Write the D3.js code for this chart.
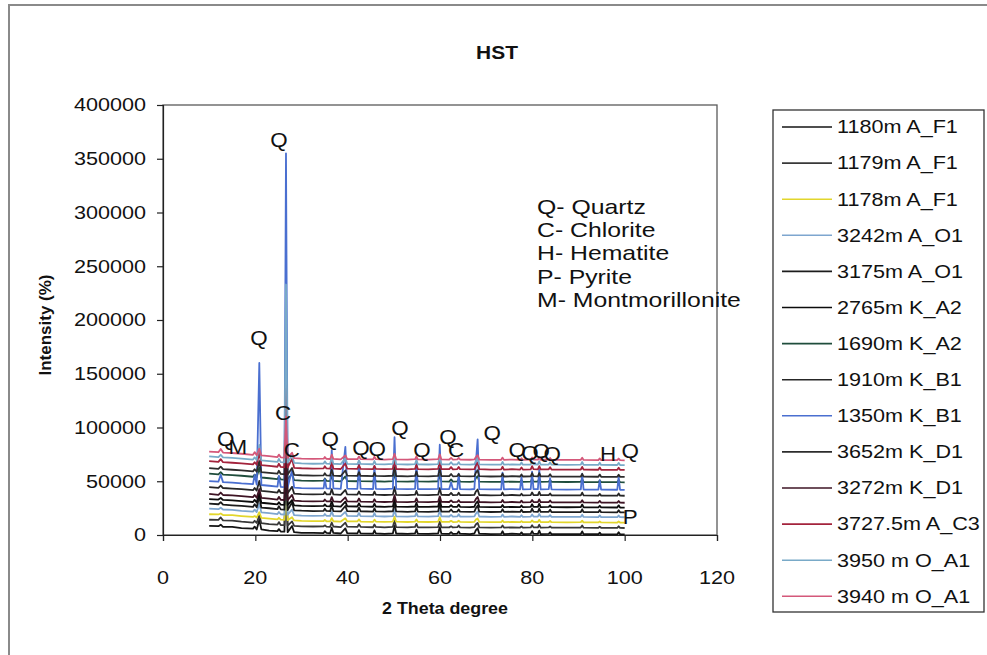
<!DOCTYPE html>
<html><head><meta charset="utf-8">
<script src="https://cdn.jsdelivr.net/npm/d3@7"></script>
<style>
body{margin:0;background:#fff}
svg{display:block}
text{font-family:"Liberation Sans",Arial,Helvetica,sans-serif;fill:#111}
</style>
</head><body>
<svg id="chart" width="987" height="655"></svg>
<script>
// ---------- data ----------
const chartTitle = "HST";
const xTitle = "2 Theta degree";
const yTitle = "Intensity (%)";
const xTickValues = [0, 20, 40, 60, 80, 100, 120];
const yTickValues = [0, 50000, 100000, 150000, 200000, 250000, 300000, 350000, 400000];

// 2θ sampling positions shared by all patterns
const twoTheta = [
  10, 12, 12.5, 13, 15, 17, 19.5, 19.85, 20.3,
  20.86, 21.3, 23, 24.8, 25.1, 25.5, 26.3, 26.64, 27.0, 27.95, 28.4,
  30, 32.5, 34.8, 35.05, 35.4, 36.2, 36.55, 36.9, 38.5, 39.5, 39.9,
  42.1, 42.45, 42.8, 45.5, 45.8, 46.1, 48, 49.8, 50.15, 50.5,
  53, 54.6, 54.9, 55.2, 57.5, 59.6, 59.95, 60.3, 62, 62.4, 62.8,
  63.75, 64.05, 64.35, 66.5, 67.45, 67.75, 68.15, 68.5, 71, 73.25, 73.55, 73.85,
  75.6, 77.35, 77.65, 77.95, 79.65, 79.95, 80.25, 81.2, 81.5, 81.8, 83.55, 83.85, 84.15,
  87.5, 90.5, 90.8, 91.1, 94.3, 94.6, 94.9, 98.4, 98.7, 99.0, 100
];

// intensities in thousands of counts, same order as twoTheta
const i1180A_F1 = [8.5,8.2,9.6,7.5,7.6,6.4,5.9,7.8,5.1, 14.2,5.2,4.1,3.6,5.5,3.2,3.1,58,2.6,8.4,2.6, 2.0,2.0,1.8,3.5,2.0,1.6,6.8,1.9,1.4,6.1,1.8, 1.6,4.6,1.5,1.2,4.4,1.6,1.1,1.6,8.5,1.4, 1.0,1.6,5.0,1.2,1.1,1.5,7.4,1.3,1.0,2.7,1.1, 1.3,3.3,1.2,0.9,1.4,4.3,6.3,1.2,0.8,1.0,3.5,0.9, 1.2,0.9,2.4,0.8,1.1,3.6,1.2,1.0,4.0,0.9,1.1,2.5,0.8, 0.8,0.9,3.4,0.8,0.7,2.2,0.6,0.6,2.6,0.6,0.5];
const i1179A_F1 = [14.2,14.0,16.3,13.6,13.4,12.4,11.6,13.2,11.2, 18.3,11.0,10.2,9.6,12.0,9.3,9.1,54,8.7,12.6,8.5, 8.0,7.9,8.1,9.0,7.8,7.6,11.6,7.9,7.4,11.5,7.7, 7.5,10.0,7.6,7.2,9.8,7.5,7.1,7.6,13.5,7.3, 7.0,7.5,10.4,7.2,7.0,7.4,12.4,7.2,7.1,8.1,7.0, 7.3,8.8,7.1,6.9,7.3,9.8,11.3,7.1,6.8,7.0,8.9,6.9, 7.1,6.9,7.9,6.8,7.0,9.1,7.1,7.0,9.5,6.9,7.0,8.0,6.8, 6.8,6.9,8.9,6.8,6.7,7.7,6.7,6.6,8.1,6.6,6.5];
const i1178A_F1 = [19.3,19.1,20.0,18.6,18.4,17.6,16.8,17.6,16.3, 21.2,16.0,15.3,14.6,16.0,14.3,14.0,44,13.8,16.5,13.6, 13.1,12.9,13.0,14.0,12.8,12.7,15.7,12.8,12.5,15.5,12.7, 12.6,14.5,12.5,12.3,14.3,12.5,12.2,12.5,17.0,12.4, 12.1,12.5,14.5,12.3,12.1,12.5,16.5,12.3,12.2,13.2,12.0, 12.3,13.3,12.2,12.0,12.3,14.3,15.3,12.2,11.9,12.0,13.5,11.9, 12.2,11.9,12.9,11.9,12.1,13.6,12.2,12.1,14.1,12.0,12.1,13.0,11.9, 11.8,11.9,13.4,11.8,11.7,12.7,11.7,11.6,12.6,11.6,11.5];
const i3242A_O1 = [24.6,24.0,25.4,23.7,23.4,22.5,21.8,23.6,21.3, 29.3,21.0,20.3,19.5,21.4,19.3,19.0,69,18.8,23.6,18.5, 18.1,17.8,18.0,19.5,17.9,17.7,22.2,17.8,17.5,21.5,17.7, 17.5,20.5,17.6,17.3,20.3,17.5,17.2,17.5,24.0,17.4, 17.1,17.5,20.5,17.3,17.1,17.5,23.0,17.3,17.2,18.7,17.1, 17.3,19.3,17.2,17.0,17.3,19.8,21.8,17.2,16.9,17.0,19.0,16.9, 17.2,16.9,18.4,16.9,17.1,19.1,17.2,17.1,19.6,17.0,17.1,18.5,16.9, 16.8,16.9,18.9,16.8,16.7,18.2,16.7,16.6,18.1,16.6,16.5];
const i3175A_O1 = [29.2,28.6,30.5,28.2,27.6,27.1,26.1,28.7,25.8, 35.8,25.4,24.9,24.0,26.9,23.8,23.6,84,23.2,30.2,23.0, 22.6,22.3,22.5,24.4,22.4,22.2,27.3,22.3,21.9,27.0,22.2, 22.0,25.5,22.1,21.8,24.8,22.0,21.7,22.1,30.0,21.9, 21.6,22.0,26.0,21.8,21.6,22.0,28.5,21.8,21.7,23.7,21.6, 21.8,23.8,21.7,21.5,21.8,24.8,27.3,21.7,21.4,21.5,24.0,21.5, 21.7,21.5,23.5,21.4,21.6,24.6,21.7,21.6,24.6,21.5,21.6,23.6,21.4, 21.3,21.4,23.9,21.3,21.2,23.2,21.2,21.1,23.1,21.1,21.0];
const i2765K_A2 = [33.4,33.0,34.5,32.6,32.3,31.6,30.7,32.7,30.2, 39.3,30.0,29.3,28.5,30.5,28.3,28.0,78,27.8,32.5,27.5, 27.1,26.8,27.0,28.5,26.9,26.7,31.3,26.8,26.4,31.0,26.7, 26.5,29.5,26.6,26.3,29.3,26.5,26.2,26.6,33.5,26.4, 26.1,26.5,30.0,26.3,26.1,26.5,32.5,26.3,26.2,27.7,26.1, 26.3,28.3,26.2,26.0,26.3,29.3,31.3,26.2,25.9,26.0,28.0,25.9, 26.2,25.9,27.4,25.9,26.1,28.6,26.2,26.1,29.1,26.0,26.1,27.6,25.9, 25.8,25.9,28.4,25.8,25.7,27.2,25.7,25.6,27.6,25.6,25.5];
const i1690K_A2 = [57.1,56.4,58.5,56.2,55.7,55.1,54.2,56.2,53.8, 62.8,53.5,52.8,52.0,54.5,51.8,51.5,111,51.3,57.3,51.0, 50.6,50.3,50.5,52.5,50.4,50.2,55.2,50.3,49.9,54.5,50.2, 50.0,53.0,50.1,49.8,52.8,50.0,49.7,50.1,57.5,49.9, 49.6,50.0,53.5,49.8,49.6,50.0,56.0,49.8,49.7,51.7,49.6, 49.8,51.8,49.7,49.5,49.8,52.8,54.8,49.7,49.4,49.5,52.0,49.4, 49.7,49.4,50.9,49.4,49.6,52.1,49.7,49.6,52.6,49.5,49.6,51.1,49.4, 49.3,49.4,51.9,49.3,49.2,50.7,49.2,49.1,51.1,49.1,49.0];
const i1910K_B1 = [44.6,43.9,46.0,43.7,43.2,42.6,41.7,43.7,41.3, 50.3,41.0,40.3,39.5,42.0,39.3,39.0,94,38.8,44.8,38.5, 38.1,37.8,38.0,40.0,37.9,37.7,42.7,37.8,37.4,42.0,37.7, 37.5,40.5,37.6,37.3,40.3,37.5,37.2,37.6,44.5,37.4, 37.1,37.5,41.0,37.3,37.1,37.5,43.5,37.3,37.2,39.2,37.1, 37.3,39.3,37.2,37.0,37.3,40.3,42.3,37.2,36.9,37.0,39.5,36.9, 37.2,36.9,38.4,36.9,37.1,39.6,37.2,37.1,40.1,37.0,37.1,38.6,36.9, 36.8,36.9,39.4,36.8,36.7,38.2,36.7,36.6,38.6,36.6,36.5];
const i1350K_B1 = [50.2,49.6,56,49.2,48.8,48.0,47.3,56,46.8, 160,46.5,45.8,45.0,55,44.8,44.6,355,44.3,60,44.0, 43.6,43.3,43.5,52,43.4,43.2,79,43.3,42.9,82,43.2, 43.0,66,43.1,42.8,64,43.0,42.7,43.1,91,42.9, 42.6,43.0,68,42.8,42.6,43.0,84,42.8,42.7,49,42.6, 42.8,57,42.7,42.5,42.8,66,89,42.7,42.4,42.5,58,42.5, 42.7,42.5,54,42.4,42.6,59,42.7,42.6,61,42.5,42.6,53,42.4, 42.3,42.4,57,42.3,42.2,51,42.2,42.1,54,42.1,42.0];
const i3652K_D1 = [62.2,61.5,63.6,61.2,60.7,60.1,59.2,61.2,58.8, 68.8,58.5,57.8,57.0,59.8,56.8,56.5,126,56.3,62.3,56.0, 55.6,55.3,55.5,57.5,55.4,55.2,60.7,55.3,54.9,60.0,55.2, 55.0,58.5,55.1,54.8,57.8,55.0,54.7,55.1,63.0,54.9, 54.6,55.0,59.0,54.8,54.6,55.0,61.5,54.8,54.7,56.7,54.6, 54.8,56.8,54.7,54.5,54.8,57.8,60.3,54.7,54.4,54.5,57.0,54.4, 54.7,54.4,56.4,54.4,54.6,57.6,54.7,54.6,57.6,54.5,54.6,56.6,54.4, 54.3,54.4,56.9,54.3,54.2,56.2,54.2,54.1,56.1,54.1,54.0];
const i3272K_D1 = [38.3,37.4,39.5,37.2,36.8,36.1,35.2,37.2,34.7, 42.8,34.5,33.8,33.0,35.5,32.8,32.5,80,32.3,37.3,32.0, 31.6,31.3,31.5,33.0,31.4,31.2,35.2,31.3,30.9,35.0,31.2, 31.0,34.0,31.1,30.8,33.3,31.0,30.7,31.1,37.0,30.9, 30.6,31.0,34.0,30.8,30.6,31.0,36.0,30.8,30.7,32.2,30.6, 30.8,32.3,30.7,30.5,30.8,33.3,35.3,30.7,30.4,30.5,32.5,30.4, 30.7,30.4,31.9,30.4,30.6,32.6,30.7,30.6,33.1,30.5,30.6,32.1,30.4, 30.3,30.4,32.4,30.3,30.2,31.7,30.2,30.1,31.6,30.1,30.0];
const i3727A_C3 = [68.7,68.0,70.6,67.7,67.2,66.6,65.7,67.7,65.3, 77.3,65.0,64.3,63.5,66.3,63.3,63.0,150,62.8,70.8,62.5, 62.1,61.8,62.0,64.0,61.9,61.7,67.7,61.8,61.4,66.5,61.7, 61.5,65.0,61.6,61.3,64.3,61.5,61.2,61.6,70.0,61.4, 61.1,61.5,65.5,61.3,61.1,61.5,68.5,61.3,61.2,63.2,61.1, 61.3,63.3,61.2,61.0,61.3,64.3,67.3,61.2,60.9,61.0,63.5,60.9, 61.2,60.9,62.9,60.9,61.1,64.1,61.2,61.1,64.1,61.0,61.1,63.1,60.9, 60.8,60.9,63.4,60.8,60.7,62.7,60.7,60.6,62.6,60.6,60.5];
const i3950O_A1 = [73.2,72.5,74.6,72.2,71.7,71.1,70.2,72.2,69.8, 83.8,69.5,68.8,68.0,70.8,67.8,67.5,233,67.3,74.3,67.0, 66.6,66.3,66.5,68.5,66.4,66.2,72.2,66.3,65.9,71.5,66.2, 66.0,69.5,66.1,65.8,68.8,66.0,65.7,66.1,75.0,65.9, 65.6,66.0,70.0,65.8,65.6,66.0,73.0,65.8,65.7,67.7,65.6, 65.8,67.8,65.7,65.5,65.8,68.8,71.8,65.7,65.4,65.5,68.0,65.4, 65.7,65.4,67.4,65.4,65.6,68.6,65.7,65.6,68.6,65.5,65.6,67.6,65.4, 65.3,65.4,67.9,65.3,65.2,67.2,65.2,65.1,67.1,65.1,65.0];
const i3940O_A1 = [77.6,77.0,80.0,76.7,76.3,75.6,74.6,77.1,74.3, 80.2,74.0,73.3,72.5,74.8,72.3,72.0,110,71.8,76.5,71.5, 71.1,70.8,71.0,72.5,70.9,70.7,74.7,70.8,70.4,74.0,70.7, 70.5,73.0,70.6,70.3,72.8,70.5,70.2,70.6,75.5,70.4, 70.1,70.5,73.0,70.3,70.1,70.5,75.0,70.3,70.2,71.7,70.1, 70.3,71.8,70.2,70.0,70.3,72.3,74.3,70.2,69.9,70.0,72.0,69.9, 70.2,69.9,71.4,69.9,70.1,72.1,70.2,70.1,72.1,70.0,70.1,71.6,69.9, 69.8,69.9,71.9,69.8,69.7,71.2,69.7,69.6,71.1,69.6,69.5];

const seriesNames = ["1180m A_F1","1179m A_F1","1178m A_F1","3242m A_O1","3175m A_O1","2765m K_A2","1690m K_A2","1910m K_B1","1350m K_B1","3652m K_D1","3272m K_D1","3727.5m A_C3","3950 m O_A1","3940 m O_A1"];
const seriesValues = [i1180A_F1,i1179A_F1,i1178A_F1,i3242A_O1,i3175A_O1,i2765K_A2,i1690K_A2,i1910K_B1,i1350K_B1,i3652K_D1,i3272K_D1,i3727A_C3,i3950O_A1,i3940O_A1];
const seriesColors = ["#141414","#383838","#e2d62c","#7ea6cf","#1c1c1c","#0c0c0c","#1f4d3c","#262626","#4a6fd0","#2c2c2c","#3e1424","#a3233c","#79aac8","#d4587a"];

// mineral key and peak labels (label, 2θ, intensity)
const mineralKey = ["Q- Quartz","C- Chlorite","H- Hematite","P- Pyrite","M- Montmorillonite"];
const peakText = ["Q","M","Q","Q","C","C","Q","Q","Q","Q","Q","Q","C","Q","Q","Q","Q","Q","H","Q","P"];
const peakTheta = [13.6,16.2,25.1,20.8,26.0,27.9,36.2,42.9,46.4,51.3,56.1,61.7,63.5,71.3,76.7,79.5,81.9,84.3,96.4,101.2,101.2];
const peakIntensity = [89200,81800,367200,183100,113400,79000,89200,80900,79900,99500,79000,91100,79000,94800,79000,76200,78100,75300,75300,78100,16700];

// ---------- drawing ----------
const svg = d3.select("#chart");
const SX = 1.2; // horizontal stretch of the source image text

function label(g, str, x, y, o = {}) {
  return g.append("text")
    .attr("transform", `translate(${x},${y}) scale(${o.sx ?? SX},1)`)
    .attr("text-anchor", o.anchor || "middle")
    .attr("dominant-baseline", "central")
    .attr("font-size", o.size || 18)
    .attr("font-weight", o.bold ? "bold" : "normal")
    .text(str);
}

// outer chart border
svg.append("rect").attr("x", 9).attr("y", 5).attr("width", 1000).attr("height", 700)
  .attr("fill", "#fff").attr("stroke", "#8a8a8a").attr("stroke-width", 2);

const x = d3.scaleLinear().domain([0, 120]).range([163, 717]);
const y = d3.scaleLinear().domain([0, 400000]).range([535, 105]);

// plot area border
svg.append("rect").attr("x", x(0)).attr("y", y(400000))
  .attr("width", x(120) - x(0)).attr("height", y(0) - y(400000))
  .attr("fill", "none").attr("stroke", "#5a5a5a").attr("stroke-width", 1.3);

// axes
const gx = svg.append("g").attr("transform", `translate(0,${y(0)})`)
  .call(d3.axisBottom(x).tickValues(xTickValues).tickSize(6).tickFormat(""));
const gy = svg.append("g").attr("transform", `translate(${x(0)},0)`)
  .call(d3.axisLeft(y).tickValues(yTickValues).tickSize(6).tickFormat(""));
[gx, gy].forEach(g => { g.selectAll("path,line").attr("stroke", "#222").attr("stroke-width", 1.2); });

xTickValues.forEach(v => label(svg, String(v), x(v), 578));
yTickValues.forEach(v => label(svg, String(v), 146, y(v), { anchor: "end" }));

// series
const line = d3.line().x((d, i) => x(twoTheta[i])).y(d => y(d * 1000));
seriesValues.forEach((vals, k) => {
  svg.append("path").datum(vals)
    .attr("d", line).attr("fill", "none")
    .attr("stroke", seriesColors[k]).attr("stroke-width", 1.8)
    .attr("stroke-linejoin", "round");
});

// peak labels
peakText.forEach((t, i) => label(svg, t, x(peakTheta[i]), y(peakIntensity[i]), { size: 20, sx: 1.12 }));

// mineral key
mineralKey.forEach((t, i) => label(svg, t, 537, 207 + i * 23.3, { anchor: "start", size: 20, sx: 1.24 }));

// titles
label(svg, chartTitle, 497, 52, { bold: true, size: 19, sx: 1.1 });
label(svg, xTitle, 445, 608, { bold: true, size: 17, sx: 1.05 });
svg.append("text")
  .attr("transform", "translate(45,325) rotate(-90)")
  .attr("text-anchor", "middle").attr("dominant-baseline", "central")
  .attr("font-size", 17).attr("font-weight", "bold").text(yTitle);

// legend
const lg = svg.append("g");
lg.append("rect").attr("x", 773).attr("y", 110).attr("width", 211).attr("height", 502)
  .attr("fill", "#fff").attr("stroke", "#333").attr("stroke-width", 1.3);
seriesNames.forEach((n, i) => {
  const yy = 127 + i * 36.1;
  lg.append("line").attr("x1", 782).attr("x2", 832).attr("y1", yy).attr("y2", yy)
    .attr("stroke", seriesColors[i]).attr("stroke-width", 1.6);
  label(lg, n, 837, yy, { anchor: "start", size: 18 });
});
</script>
</body></html>
